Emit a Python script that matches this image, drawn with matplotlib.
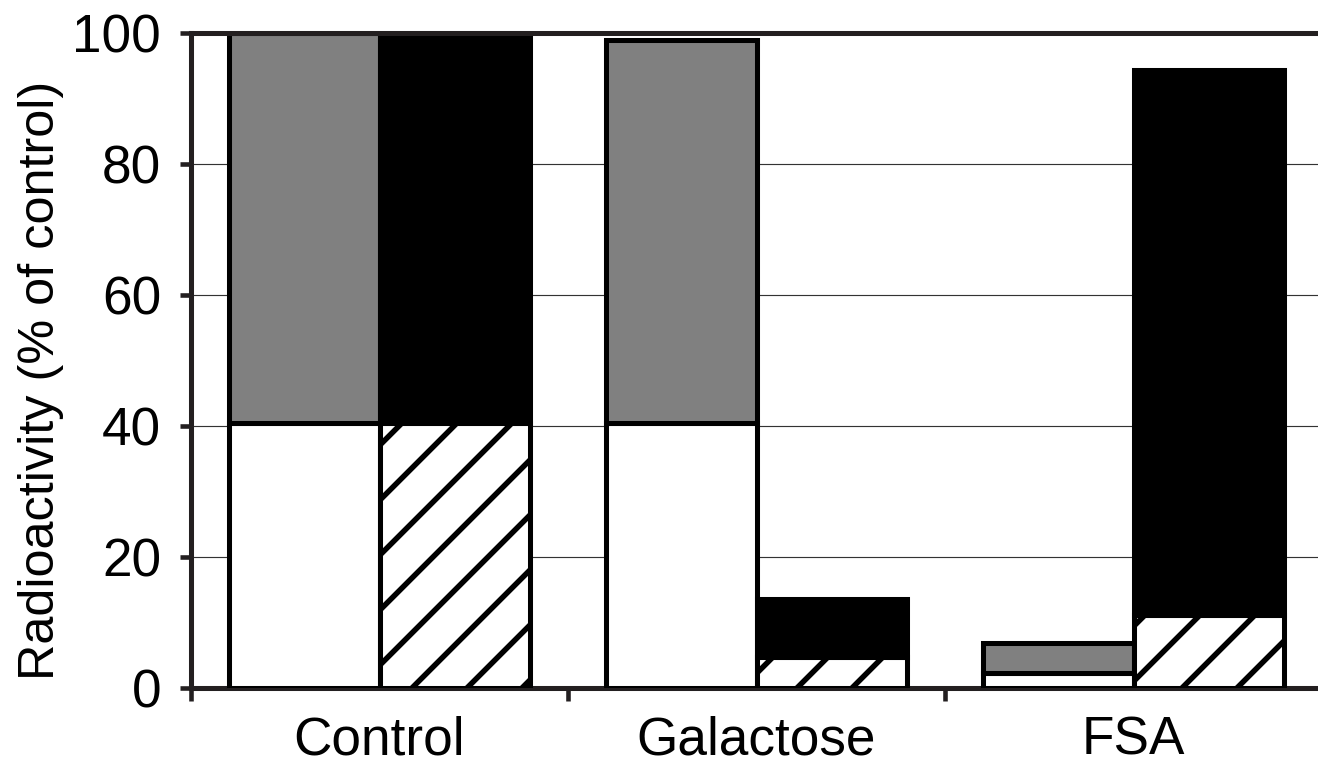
import numpy as np
import matplotlib
matplotlib.use("Agg")
import matplotlib.pyplot as plt

# values (% of control)
groups = ["Control", "Galactose", "FSA"]
white_part = [40.4, 40.4, 2.3]      # left bar, lower segment
gray_total = [100.0, 98.9, 6.9]     # left bar, top of gray segment
hatch_part = [40.4, 4.8, 11.1]      # right bar, lower segment
black_total = [100.0, 13.6, 94.3]   # right bar, top of black segment

DPI = 330
plt.rcParams['font.family'] = ['Liberation Sans', 'DejaVu Sans']
plt.rcParams['hatch.linewidth'] = 1.2
plt.rcParams['hatch.color'] = 'black'

fig = plt.figure(figsize=(1318 / DPI, 767 / DPI), dpi=DPI)
ax = fig.add_axes([191 / 1318, 1 - 688 / 767, 1131 / 1318, 655 / 767])

x = np.arange(len(groups))
w = 0.4
edge = 1.1

gray_seg = np.array(gray_total) - np.array(white_part)
black_seg = np.array(black_total) - np.array(hatch_part)

# left bars: white + gray
ax.bar(x + 0.1, white_part, width=w, align='edge', color='white',
       edgecolor='black', linewidth=edge, zorder=3)
ax.bar(x + 0.1, gray_seg, bottom=white_part, width=w, align='edge',
       color='#808080', edgecolor='black', linewidth=edge, zorder=3)
# right bars: hatched + black
ax.bar(x + 0.5, hatch_part, width=w, align='edge', color='white',
       edgecolor='black', hatch='//', linewidth=edge, zorder=3)
ax.bar(x + 0.5, black_seg, bottom=hatch_part, width=w, align='edge',
       color='black', edgecolor='black', linewidth=edge, zorder=3)

ax.set_xlim(0, 3)
ax.set_ylim(0, 100)

# gridlines
for yv in [20, 40, 60, 80]:
    ax.axhline(yv, color='#333333', linewidth=0.25, zorder=1)

ax.spines['right'].set_visible(False)
for s in ['left', 'bottom', 'top']:
    ax.spines[s].set_linewidth(1.1)
    ax.spines[s].set_color('#231f20')
ax.spines['top'].set_zorder(5)

ax.set_yticks([0, 20, 40, 60, 80, 100])
ax.tick_params(axis='y', direction='out', length=2.5, width=1.0,
               labelsize=11.6, pad=4, color='#231f20')

ax.set_xticks([0, 1, 2, 3])
ax.set_xticklabels([])
ax.set_xticks(x + 0.5, minor=True)
ax.set_xticklabels(groups, minor=True)
ax.tick_params(axis='x', which='major', direction='out', length=2.8,
               width=1.0, color='#231f20')
ax.tick_params(axis='x', which='minor', length=0, labelsize=11.6, pad=6)

ax.text(-0.133, 0.47, "Radioactivity (% of control)", transform=ax.transAxes,
        rotation=90, ha='center', va='center', fontsize=11.0)

fig.savefig("out.png", dpi=DPI)
